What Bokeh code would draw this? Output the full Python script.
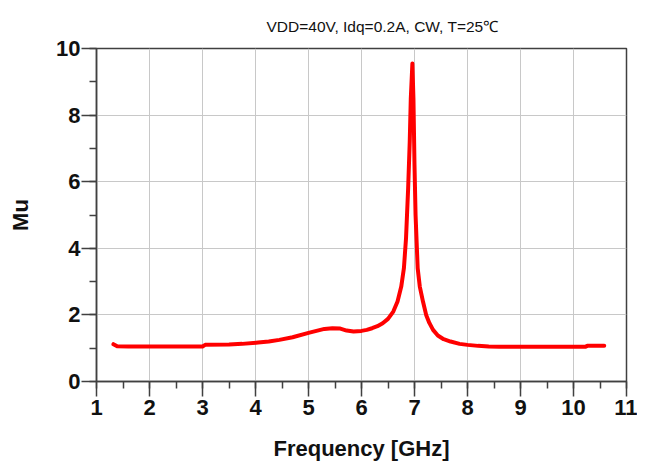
from bokeh.plotting import figure
from bokeh.models import SingleIntervalTicker, Range1d
from bokeh.embed import file_html
from bokeh.resources import INLINE

title_text = "VDD=40V, Idq=0.2A, CW, T=25\u2103"
x_label = "Frequency [GHz]"
y_label = "Mu"

freq = [1.32, 1.39, 1.6, 2.0, 2.5, 3.0, 3.05, 3.5, 3.75, 4.05, 4.25, 4.45, 4.7,
        5.0, 5.15, 5.3, 5.45, 5.6, 5.72, 5.85, 6.0, 6.1, 6.2, 6.3, 6.4, 6.5,
        6.6, 6.68, 6.75, 6.8, 6.84, 6.88, 6.91, 6.93, 6.96, 6.98, 7.0, 7.02,
        7.06, 7.1, 7.16, 7.22, 7.28, 7.35, 7.44, 7.55, 7.68, 7.85, 8.0, 8.2,
        8.4, 8.6, 9.0, 9.5, 10.0, 10.22, 10.26, 10.4, 10.58]
mu = [1.12, 1.06, 1.05, 1.05, 1.05, 1.05, 1.1, 1.11, 1.13, 1.17, 1.2, 1.25, 1.33,
      1.46, 1.52, 1.58, 1.6, 1.59, 1.53, 1.5, 1.52, 1.55, 1.6, 1.66, 1.75, 1.88,
      2.1, 2.4, 2.85, 3.4, 4.3, 5.8, 7.2, 8.5, 9.55, 8.5, 6.5, 5.0,
      3.4, 2.85, 2.4, 2.0, 1.76, 1.55, 1.38, 1.27, 1.2, 1.13, 1.1, 1.07,
      1.05, 1.04, 1.04, 1.04, 1.04, 1.04, 1.07, 1.07, 1.07]

p = figure(width=637, height=447, output_backend="svg", toolbar_location=None,
           x_range=Range1d(1, 11), y_range=Range1d(0, 10),
           frame_width=530, frame_height=333,
           min_border_left=96, min_border_right=11, min_border_top=48,
           min_border_bottom=0)

p.title.text = title_text
p.title.align = "left"
p.title.offset = 170
p.title.standoff = 28
p.title.text_font = "Liberation Sans"
p.title.text_font_style = "normal"
p.title.text_font_size = "15.5px"
p.title.text_color = "#111111"

p.line(freq, mu, line_color="#ff0000", line_width=4, line_join="round", line_cap="round")

p.xaxis.ticker = SingleIntervalTicker(interval=1, num_minor_ticks=2)
p.yaxis.ticker = SingleIntervalTicker(interval=2, num_minor_ticks=2)

for ax in (p.xaxis[0], p.yaxis[0]):
    ax.axis_line_color = "#404040"
    ax.axis_line_width = 1.5
    ax.major_tick_line_color = "#404040"
    ax.minor_tick_line_color = "#404040"
    ax.major_tick_line_width = 1.5
    ax.minor_tick_line_width = 1.5
    ax.major_tick_out = 15
    ax.major_tick_in = 0
    ax.minor_tick_out = 7
    ax.minor_tick_in = 0
    ax.major_label_text_font = "Liberation Sans"
    ax.major_label_text_font_style = "bold"
    ax.major_label_text_font_size = "22px"
    ax.major_label_text_color = "#111111"
    ax.axis_label_text_font = "Liberation Sans"
    ax.axis_label_text_font_style = "bold"
    ax.axis_label_text_font_size = "22px"
    ax.axis_label_text_color = "#111111"

p.xaxis.axis_label = x_label
p.yaxis.axis_label = y_label
p.xaxis.major_label_standoff = 3
p.yaxis.major_label_standoff = 1
p.xaxis.axis_label_standoff = 18
p.yaxis.axis_label_standoff = 20

p.grid.grid_line_color = "#c8c8c8"
p.grid.grid_line_width = 1
p.outline_line_color = "#404040"
p.outline_line_width = 1.5
p.background_fill_color = "white"
p.border_fill_color = "white"

open("out.html", "w").write(file_html(p, INLINE))
